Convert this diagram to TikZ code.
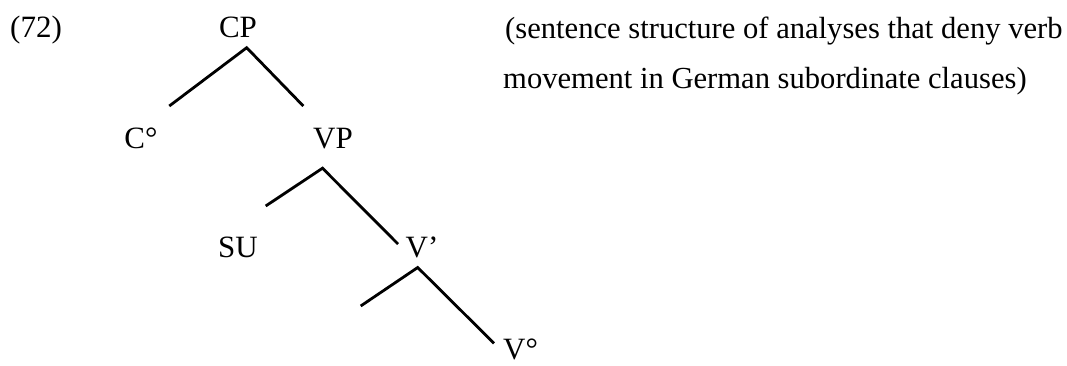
\documentclass[tikz,border=0pt]{standalone}
\usepackage{fontspec}
\setmainfont{Liberation Serif}
\begin{document}
\begin{tikzpicture}[x=1pt,y=-1pt,
  lbl/.style={inner sep=0pt,anchor=base,font=\fontsize{31}{36}\selectfont},
  txt/.style={inner sep=0pt,anchor=base west,font=\fontsize{30.6}{36}\selectfont},
  branch/.style={line width=2.8pt,line cap=butt,line join=miter}]
\useasboundingbox[fill=white] (0,0) rectangle (1067,365);
\node[lbl,anchor=base west] (ex) at (10,37) {(72)};
\node[lbl] (CP) at (238,37) {CP};
\node[lbl] (C) at (141,148) {C°};
\node[lbl] (VP) at (333,148) {VP};
\node[lbl] (SU) at (238,257) {SU};
\node[lbl] (Vbar) at (422,257) {V’};
\node[lbl,anchor=base west] (V) at (503,359) {V°};
\node[txt] (t1) at (505,38) {(sentence structure of analyses that deny verb};
\node[txt] (t2) at (503,88) {movement in German subordinate clauses)};
\coordinate (cpA) at (246.7,47.7);
\coordinate (cpL) at (169.3,106);
\coordinate (cpR) at (303.3,106);
\coordinate (vpA) at (322.5,168.2);
\coordinate (vpL) at (265.7,206);
\coordinate (vpR) at (398,244);
\coordinate (vbA) at (417.7,267.5);
\coordinate (vbL) at (360.7,306);
\coordinate (vbR) at (494,343.3);
\draw[branch] (cpL) -- (cpA) -- (cpR);
\draw[branch] (vpL) -- (vpA) -- (vpR);
\draw[branch] (vbL) -- (vbA) -- (vbR);
\end{tikzpicture}
\end{document}
